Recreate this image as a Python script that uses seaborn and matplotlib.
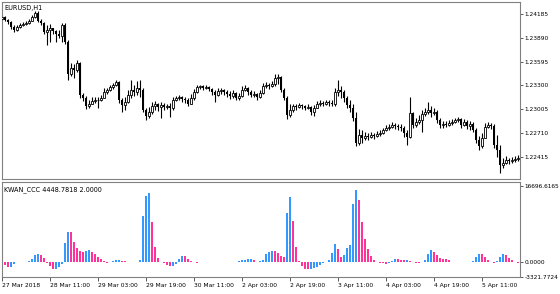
import numpy as np
import pandas as pd
import matplotlib
matplotlib.use("Agg")
import matplotlib.pyplot as plt
import seaborn as sns

# ---------------- data ----------------
symbol_label = "EURUSD,H1"
indicator_label = "KWAN_CCC 4448.7818 2.0000"

first_open = 1.24123

close = [
    1.24148, 1.24111, 1.24086, 1.24024, 1.23987, 1.24024, 1.24049, 1.24061, 1.24074, 1.24099,
    1.24148, 1.24198, 1.24099, 1.24074, 1.23962, 1.23987, 1.24012, 1.23975, 1.23937, 1.23913,
    1.24049, 1.23838, 1.23441, 1.23516, 1.23491, 1.23578, 1.23181, 1.23144, 1.23045, 1.23069,
    1.23107, 1.23119, 1.23119, 1.23144, 1.23218, 1.23243, 1.23280, 1.23305, 1.23342, 1.23119,
    1.23057, 1.23094, 1.23181, 1.23243, 1.23218, 1.23268, 1.23243, 1.22995, 1.22921, 1.22970,
    1.23045, 1.23069, 1.23032, 1.23057, 1.23032, 1.23045, 1.23020, 1.23119, 1.23144, 1.23156,
    1.23131, 1.23119, 1.23069, 1.23144, 1.23218, 1.23280, 1.23293, 1.23268, 1.23280, 1.23255,
    1.23218, 1.23181, 1.23231, 1.23243, 1.23218, 1.23193, 1.23169, 1.23206, 1.23144, 1.23169,
    1.23243, 1.23268, 1.23218, 1.23181, 1.23193, 1.23156, 1.23206, 1.23293, 1.23305, 1.23293,
    1.23317, 1.23392, 1.23404, 1.23243, 1.23144, 1.22933, 1.22995, 1.23045, 1.23032, 1.23057,
    1.23045, 1.23020, 1.23032, 1.22970, 1.23020, 1.23069, 1.23082, 1.23069, 1.23094, 1.23082,
    1.23069, 1.23218, 1.23243, 1.23218, 1.23144, 1.23057, 1.23020, 1.22896, 1.22586, 1.22685,
    1.22648, 1.22673, 1.22660, 1.22685, 1.22673, 1.22697, 1.22710, 1.22747, 1.22772, 1.22784,
    1.22809, 1.22797, 1.22784, 1.22772, 1.22710, 1.22660, 1.22958, 1.22809, 1.22846, 1.22871,
    1.22945, 1.22970, 1.22995, 1.22958, 1.22970, 1.22871, 1.22809, 1.22821, 1.22809, 1.22834,
    1.22846, 1.22871, 1.22883, 1.22809, 1.22846, 1.22797, 1.22821, 1.22747, 1.22623, 1.22549,
    1.22648, 1.22784, 1.22809, 1.22797, 1.22561, 1.22499, 1.22313, 1.22338, 1.22375, 1.22363,
    1.22375, 1.22387, 1.22400,
]

high = [
    1.24173, 1.24161, 1.24123, 1.24099, 1.24049, 1.24049, 1.24074, 1.24086, 1.24099, 1.24123,
    1.24173, 1.24223, 1.24223, 1.24123, 1.24086, 1.24049, 1.24061, 1.24012, 1.23987, 1.23987,
    1.24074, 1.24074, 1.23863, 1.23578, 1.23565, 1.23615, 1.23590, 1.23206, 1.23169, 1.23119,
    1.23156, 1.23156, 1.23156, 1.23181, 1.23268, 1.23268, 1.23305, 1.23330, 1.23367, 1.23355,
    1.23144, 1.23156, 1.23243, 1.23367, 1.23305, 1.23355, 1.23367, 1.23268, 1.23020, 1.23032,
    1.23094, 1.23107, 1.23082, 1.23094, 1.23082, 1.23069, 1.23082, 1.23156, 1.23169, 1.23181,
    1.23169, 1.23156, 1.23144, 1.23193, 1.23255, 1.23305, 1.23305, 1.23305, 1.23305, 1.23293,
    1.23268, 1.23243, 1.23268, 1.23268, 1.23255, 1.23243, 1.23231, 1.23243, 1.23218, 1.23206,
    1.23293, 1.23305, 1.23280, 1.23243, 1.23231, 1.23206, 1.23243, 1.23330, 1.23342, 1.23330,
    1.23355, 1.23441, 1.23441, 1.23417, 1.23268, 1.23169, 1.23069, 1.23069, 1.23069, 1.23082,
    1.23069, 1.23057, 1.23069, 1.23045, 1.23057, 1.23107, 1.23119, 1.23107, 1.23119, 1.23119,
    1.23119, 1.23268, 1.23367, 1.23293, 1.23243, 1.23169, 1.23119, 1.23069, 1.22970, 1.22759,
    1.22747, 1.22722, 1.22710, 1.22722, 1.22710, 1.22735, 1.22747, 1.22772, 1.22809, 1.22821,
    1.22846, 1.22834, 1.22821, 1.22821, 1.22797, 1.22747, 1.23156, 1.22970, 1.22896, 1.22933,
    1.22995, 1.23020, 1.23094, 1.23045, 1.23020, 1.22995, 1.22896, 1.22859, 1.22859, 1.22871,
    1.22883, 1.22896, 1.22908, 1.22896, 1.22883, 1.22871, 1.22859, 1.22846, 1.22772, 1.22673,
    1.22710, 1.22834, 1.22846, 1.22834, 1.22821, 1.22685, 1.22561, 1.22400, 1.22425, 1.22400,
    1.22412, 1.22425, 1.22437,
]

low = [
    1.24111, 1.24099, 1.24061, 1.23999, 1.23962, 1.23975, 1.24012, 1.24037, 1.24049, 1.24061,
    1.24099, 1.24136, 1.24086, 1.24049, 1.23937, 1.23801, 1.23838, 1.23937, 1.23838, 1.23888,
    1.23838, 1.23813, 1.23367, 1.23417, 1.23392, 1.23466, 1.23144, 1.23107, 1.23007, 1.23020,
    1.23069, 1.23082, 1.23020, 1.23107, 1.23144, 1.23193, 1.23231, 1.23255, 1.23293, 1.23082,
    1.22970, 1.22995, 1.23082, 1.23144, 1.23169, 1.23181, 1.23156, 1.22970, 1.22871, 1.22896,
    1.22945, 1.22995, 1.22983, 1.22896, 1.22995, 1.23007, 1.22908, 1.22995, 1.23107, 1.23119,
    1.23094, 1.23082, 1.23045, 1.23069, 1.23119, 1.23206, 1.23255, 1.23243, 1.23255, 1.23231,
    1.23181, 1.23094, 1.23169, 1.23193, 1.23181, 1.23156, 1.23131, 1.23144, 1.23119, 1.23119,
    1.23156, 1.23231, 1.23181, 1.23156, 1.23156, 1.23119, 1.23144, 1.23193, 1.23268, 1.23255,
    1.23280, 1.23293, 1.23317, 1.23218, 1.23119, 1.22883, 1.22908, 1.22970, 1.22995, 1.23020,
    1.23007, 1.22995, 1.23007, 1.22933, 1.22921, 1.23020, 1.23045, 1.23045, 1.23057, 1.23045,
    1.23045, 1.23045, 1.23169, 1.23144, 1.23094, 1.23020, 1.22970, 1.22859, 1.22549, 1.22561,
    1.22586, 1.22623, 1.22623, 1.22648, 1.22635, 1.22660, 1.22673, 1.22697, 1.22735, 1.22747,
    1.22772, 1.22759, 1.22747, 1.22735, 1.22660, 1.22561, 1.22648, 1.22772, 1.22784, 1.22821,
    1.22722, 1.22921, 1.22945, 1.22908, 1.22933, 1.22834, 1.22772, 1.22772, 1.22784, 1.22797,
    1.22809, 1.22834, 1.22846, 1.22772, 1.22797, 1.22759, 1.22747, 1.22722, 1.22586, 1.22499,
    1.22524, 1.22648, 1.22772, 1.22759, 1.22524, 1.22412, 1.22214, 1.22276, 1.22325, 1.22325,
    1.22338, 1.22350, 1.22363,
]

kwan = [
    -400, -730, -1100, -1020, -510, -100, 50, 40, 0, 220,
    730, 1540, 1830, 1540, 950, -150, -880, -1610, -1460, -1100,
    -510, 4100, 6590, 6550, 4470, 3150, 2420, 2270, 2420, 2560,
    2270, 1680, 1100, 590, 150, -150, 20, 220, 370, 380,
    290, 220, 70, 60, 50, 60, 370, 10100, 14500, 15080,
    8860, 3300, 950, 70, -290, -660, -950, -900, -370, 590,
    1240, 1200, 730, 220, -70, -290, -100, -50, 0, 70,
    80, 50, 30, 0, 10, 0, 10, 0, 30, 220,
    370, 510, 600, 680, 370, 50, 100, 370, 1680, 2270,
    2490, 2340, 1980, 1320, 1170, 10830, 14350, 9000, 3300, 150,
    -950, -1460, -1610, -1560, -1240, -1100, -590, -220, 70, 440,
    2050, 3880, 2930, 1170, 1540, 3150, 3660, 12810, 15740, 13620,
    8780, 5120, 2780, 1320, 370, 70, -150, -290, -440, -220,
    150, 600, 560, 440, 370, 400, 220, 70, -220, -290,
    0, 370, 1830, 2560, 2200, 1540, 950, 730, 590, 370,
    70, 30, 0, 20, 10, 0, 20, 220, 1170, 1720,
    1680, 1100, 510, 0, -290, 150, 1100, 1680, 1540, 950,
    370, 0, -220,
]

time_tick_bars = [0, 16, 32, 48, 64, 80, 96, 112, 128, 144, 160]
time_labels = ["27 Mar 2018", "28 Mar 11:00", "29 Mar 03:00", "29 Mar 19:00",
               "30 Mar 11:00", "2 Apr 03:00", "2 Apr 19:00", "3 Apr 11:00",
               "4 Apr 03:00", "4 Apr 19:00", "5 Apr 11:00"]
price_ticks = [1.24185, 1.23890, 1.23595, 1.23300, 1.23005, 1.22710, 1.22415]
price_tick_labels = ["1.24185", "1.23890", "1.23595", "1.23300", "1.23005", "1.22710", "1.22415"]
ind_ticks = [16696.6165, 0.0, -3321.7724]
ind_tick_labels = ["16696.6165", "0.0000", "-3321.7724"]

# ---------------- style ----------------
sns.set_theme(style="white")
plt.rcParams['font.family'] = ['DejaVu Sans']
FS = 4.25
FS_TITLE = 4.7
FRAME = '#808080'
BLUE = '#3399ff'
PINK = '#ff3399'

W, H = 560, 294
fig = plt.figure(figsize=(W / 100, H / 100), dpi=100)
fig.patch.set_facecolor('white')


def rect(x0, y0, x1, y1):
    return [x0 / W, 1 - y1 / H, (x1 - x0) / W, (y1 - y0) / H]


ax1 = fig.add_axes(rect(2, 2, 520, 179))
ax2 = fig.add_axes(rect(2, 181.5, 520, 277))

# ---------------- candles ----------------
c = np.array(close)
o = np.array([first_open] + close[:-1])
h = np.maximum(np.array(high), np.maximum(o, c))
l = np.minimum(np.array(low), np.minimum(o, c))
idx = np.arange(len(c))
bull = c >= o
bottoms = np.minimum(o, c)
heights = np.maximum(np.abs(c - o), 0.00002)

ax1.vlines(idx, l, h, color='black', linewidth=0.8, zorder=2)
ax1.bar(idx[bull], heights[bull], bottom=bottoms[bull], width=0.68,
        facecolor='white', edgecolor='black', linewidth=0.6, zorder=3)
ax1.bar(idx[~bull], heights[~bull], bottom=bottoms[~bull], width=0.68,
        color='black', linewidth=0, zorder=3)

# ---------------- indicator histogram ----------------
df = pd.DataFrame({'bar': idx, 'value': kwan})
df['dir'] = np.where(df['value'].diff() > 0, 'up', 'down')
sns.barplot(data=df, x='bar', y='value', hue='dir',
            palette={'up': BLUE, 'down': PINK}, native_scale=True,
            dodge=False, width=0.67, errorbar=None, legend=False,
            saturation=1, linewidth=0, ax=ax2)

# ---------------- axes ----------------
xlim = (0, 172.67)
for ax in (ax1, ax2):
    ax.set_xlim(*xlim)
    ax.set_facecolor('white')
    ax.grid(False)
    ax.set_xlabel('')
    ax.set_ylabel('')
    for s in ax.spines.values():
        s.set_color(FRAME)
        s.set_linewidth(0.8)
        s.set_visible(True)

ax1.set_ylim(1.22139, 1.24334)
ax1.set_yticks(price_ticks)
ax1.set_yticklabels(price_tick_labels)
ax1.set_xticks([])
ax1.tick_params(axis='y', left=False, right=True, labelleft=False, labelright=True,
                direction='out', length=2.2, width=0.6, color='#404040',
                pad=1.0, labelsize=FS, labelcolor='black')

ax2.set_ylim(-3321.7724, 17686)
ax2.set_yticks(ind_ticks)
ax2.set_yticklabels(ind_tick_labels)
ax2.tick_params(axis='y', left=False, right=True, labelleft=False, labelright=True,
                direction='out', length=2.2, width=0.6, color='#404040',
                pad=1.0, labelsize=FS, labelcolor='black')
ax2.set_xticks(time_tick_bars)
ax2.set_xticklabels(time_labels, ha='left')
ax2.tick_params(axis='x', bottom=True, top=False, direction='out', length=3,
                width=0.6, color='#404040', pad=1.0, labelsize=FS + 0.1, labelcolor='black')

ax1.text(0.004, 1 - 8 / 177, symbol_label, transform=ax1.transAxes,
         fontsize=FS_TITLE, color='black', va='baseline', ha='left')
ax2.text(0.004, 1 - 10 / 95.5, indicator_label, transform=ax2.transAxes,
         fontsize=FS_TITLE, color='black', va='baseline', ha='left')

fig.savefig('out.png', dpi=100, facecolor='white')
